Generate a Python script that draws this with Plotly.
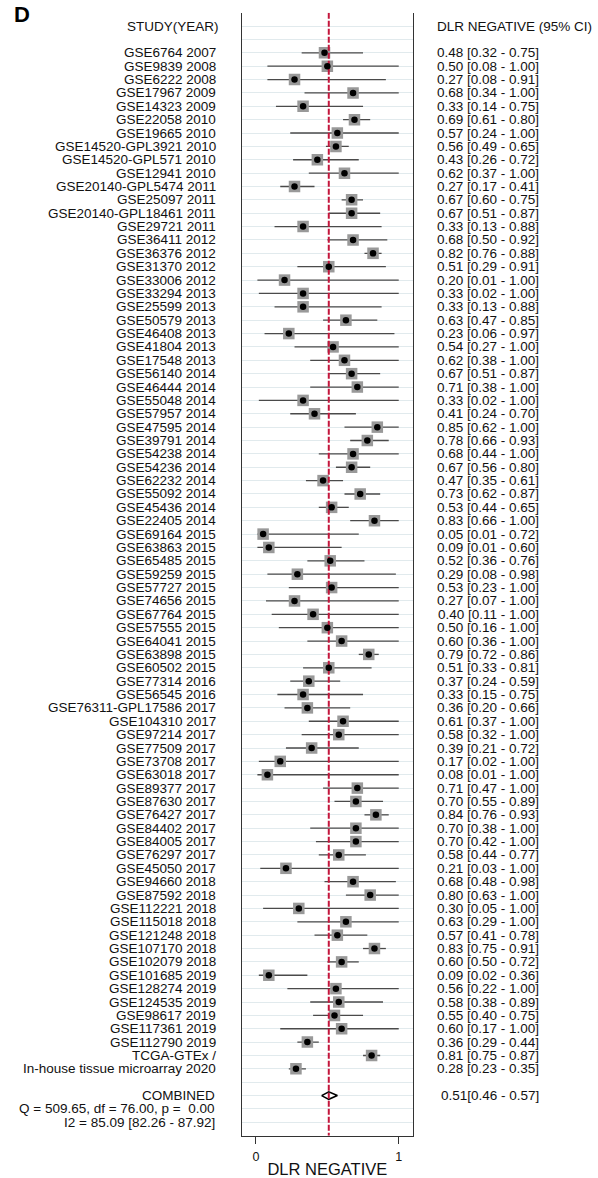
import plotly.graph_objects as go

# ---- study-level data: DLR negative with 95% CI ----
studies = [
    "GSE6764 2007", "GSE9839 2008", "GSE6222 2008", "GSE17967 2009", "GSE14323 2009",
    "GSE22058 2010", "GSE19665 2010", "GSE14520-GPL3921 2010", "GSE14520-GPL571 2010",
    "GSE12941 2010", "GSE20140-GPL5474 2011", "GSE25097 2011", "GSE20140-GPL18461 2011",
    "GSE29721 2011", "GSE36411 2012", "GSE36376 2012", "GSE31370 2012", "GSE33006 2012",
    "GSE33294 2013", "GSE25599 2013", "GSE50579 2013", "GSE46408 2013", "GSE41804 2013",
    "GSE17548 2013", "GSE56140 2014", "GSE46444 2014", "GSE55048 2014", "GSE57957 2014",
    "GSE47595 2014", "GSE39791 2014", "GSE54238 2014", "GSE54236 2014", "GSE62232 2014",
    "GSE55092 2014", "GSE45436 2014", "GSE22405 2014", "GSE69164 2015", "GSE63863 2015",
    "GSE65485 2015", "GSE59259 2015", "GSE57727 2015", "GSE74656 2015", "GSE67764 2015",
    "GSE57555 2015", "GSE64041 2015", "GSE63898 2015", "GSE60502 2015", "GSE77314 2016",
    "GSE56545 2016", "GSE76311-GPL17586 2017", "GSE104310 2017", "GSE97214 2017",
    "GSE77509 2017", "GSE73708 2017", "GSE63018 2017", "GSE89377 2017", "GSE87630 2017",
    "GSE76427 2017", "GSE84402 2017", "GSE84005 2017", "GSE76297 2017", "GSE45050 2017",
    "GSE94660 2018", "GSE87592 2018", "GSE112221 2018", "GSE115018 2018", "GSE121248 2018",
    "GSE107170 2018", "GSE102079 2018", "GSE101685 2019", "GSE128274 2019", "GSE124535 2019",
    "GSE98617 2019", "GSE117361 2019", "GSE112790 2019", "TCGA-GTEx /",
    "In-house tissue microarray 2020",
]

dlr = [
    0.48, 0.50, 0.27, 0.68, 0.33, 0.69, 0.57, 0.56, 0.43, 0.62,
    0.27, 0.67, 0.67, 0.33, 0.68, 0.82, 0.51, 0.20, 0.33, 0.33,
    0.63, 0.23, 0.54, 0.62, 0.67, 0.71, 0.33, 0.41, 0.85, 0.78,
    0.68, 0.67, 0.47, 0.73, 0.53, 0.83, 0.05, 0.09, 0.52, 0.29,
    0.53, 0.27, 0.40, 0.50, 0.60, 0.79, 0.51, 0.37, 0.33, 0.36,
    0.61, 0.58, 0.39, 0.17, 0.08, 0.71, 0.70, 0.84, 0.70, 0.70,
    0.58, 0.21, 0.68, 0.80, 0.30, 0.63, 0.57, 0.83, 0.60, 0.09,
    0.56, 0.58, 0.55, 0.60, 0.36, 0.81, 0.28,
]

ci_low = [
    0.32, 0.08, 0.08, 0.34, 0.14, 0.61, 0.24, 0.49, 0.26, 0.37,
    0.17, 0.60, 0.51, 0.13, 0.50, 0.76, 0.29, 0.01, 0.02, 0.13,
    0.47, 0.06, 0.27, 0.38, 0.51, 0.38, 0.02, 0.24, 0.62, 0.66,
    0.44, 0.56, 0.35, 0.62, 0.44, 0.66, 0.01, 0.01, 0.36, 0.08,
    0.23, 0.07, 0.11, 0.16, 0.36, 0.72, 0.33, 0.24, 0.15, 0.20,
    0.37, 0.32, 0.21, 0.02, 0.01, 0.47, 0.55, 0.76, 0.38, 0.42,
    0.44, 0.03, 0.48, 0.63, 0.05, 0.29, 0.41, 0.75, 0.50, 0.02,
    0.22, 0.38, 0.40, 0.17, 0.29, 0.75, 0.23,
]

ci_high = [
    0.75, 1.00, 0.91, 1.00, 0.75, 0.80, 1.00, 0.65, 0.72, 1.00,
    0.41, 0.75, 0.87, 0.88, 0.92, 0.88, 0.91, 1.00, 1.00, 0.88,
    0.85, 0.97, 1.00, 1.00, 0.87, 1.00, 1.00, 0.70, 1.00, 0.93,
    1.00, 0.80, 0.61, 0.87, 0.65, 1.00, 0.72, 0.60, 0.76, 0.98,
    1.00, 1.00, 1.00, 1.00, 1.00, 0.86, 0.81, 0.59, 0.75, 0.66,
    1.00, 1.00, 0.72, 1.00, 1.00, 1.00, 0.89, 0.93, 1.00, 1.00,
    0.77, 1.00, 0.98, 1.00, 1.00, 1.00, 0.78, 0.91, 0.72, 0.36,
    1.00, 0.89, 0.75, 1.00, 0.44, 0.87, 0.35,
]

# ---- pooled estimate and heterogeneity ----
pooled, pooled_low, pooled_high = 0.51, 0.46, 0.57
q_stat, q_df, q_p = 509.65, 76.00, 0.00
i2, i2_low, i2_high = 85.09, 82.26, 87.92

x_ticks = [0, 1]

# ---- row layout (row 0 = header, studies start at row 2) ----
study_rows = [i + 2 for i in range(len(studies))]
combined_row = study_rows[-1] + 2
q_row = combined_row + 1
i2_row = combined_row + 2
last_row = i2_row + 1

FONT = "Liberation Sans, Arial, sans-serif"
TXT = "#111111"
LABEL_SIZE = 13.5
W, H = 598, 1178

fig = go.Figure()

# confidence-interval whiskers
ci_x, ci_y = [], []
for lo, hi, r in zip(ci_low, ci_high, study_rows):
    ci_x += [lo, hi, None]
    ci_y += [r, r, None]
fig.add_trace(go.Scatter(x=ci_x, y=ci_y, mode="lines",
                         line=dict(color="#4a4a4a", width=1.3),
                         hoverinfo="skip", showlegend=False))

# grey weight boxes
fig.add_trace(go.Scatter(x=dlr, y=study_rows, mode="markers",
                         marker=dict(symbol="square", size=11.5, color="#999999",
                                     line=dict(width=0)),
                         hoverinfo="skip", showlegend=False))

# pooled diamond
half_h = 0.28
fig.add_trace(go.Scatter(
    x=[pooled_low, pooled, pooled_high, pooled, pooled_low],
    y=[combined_row, combined_row - half_h, combined_row, combined_row + half_h, combined_row],
    mode="lines", fill="toself", fillcolor="white",
    line=dict(color="black", width=1.6),
    hoverinfo="skip", showlegend=False))

# reference line at the pooled estimate
fig.add_trace(go.Scatter(x=[pooled, pooled], y=[-1, last_row], mode="lines",
                         line=dict(color="#c3163c", width=2, dash="6px,2px"),
                         hoverinfo="skip", showlegend=False))

# point estimates
fig.add_trace(go.Scatter(x=dlr, y=study_rows, mode="markers",
                         marker=dict(symbol="circle", size=6.5, color="black",
                                     line=dict(width=0)),
                         hoverinfo="skip", showlegend=False))

annotations = []
left_x = 218 / W
right_x = 541 / W


def left_label(text, row, x=left_x):
    annotations.append(dict(text=text, x=x, y=row, xref="paper", yref="y",
                            xanchor="right", yanchor="middle", showarrow=False,
                            font=dict(family=FONT, size=LABEL_SIZE, color=TXT)))


def right_label(text, row, x=right_x, anchor="right"):
    annotations.append(dict(text=text, x=x, y=row, xref="paper", yref="y",
                            xanchor=anchor, yanchor="middle", showarrow=False,
                            font=dict(family=FONT, size=LABEL_SIZE, color=TXT)))


left_label("STUDY(YEAR)", 0, x=221 / W)
right_label("DLR NEGATIVE (95% CI)", 0, x=435 / W, anchor="left")

for name, e, lo, hi, r in zip(studies, dlr, ci_low, ci_high, study_rows):
    left_label(name, r)
    right_label(f"{e:.2f} [{lo:.2f} - {hi:.2f}]", r)

left_label("COMBINED", combined_row, x=217 / W)
right_label(f"{pooled:.2f}[{pooled_low:.2f} - {pooled_high:.2f}]", combined_row)
left_label(f"Q = {q_stat:.2f}, df = {q_df:.2f}, p =\u00a0 {q_p:.2f}", q_row, x=217 / W)
left_label(f"I2 = {i2:.2f} [{i2_low:.2f} - {i2_high:.2f}]", i2_row, x=217 / W)

# panel letter
annotations.append(dict(text="<b>D</b>", x=12 / W, y=1 - 14 / H, xref="paper", yref="paper",
                        xanchor="left", yanchor="middle", showarrow=False,
                        font=dict(family=FONT, size=22, color="black")))

fig.update_layout(
    width=W, height=H,
    margin=dict(l=0, r=0, t=0, b=0),
    paper_bgcolor="white", plot_bgcolor="white",
    annotations=annotations,
    showlegend=False,
    xaxis=dict(
        domain=[241.7 / W, 413 / W], range=[-0.1, 1.1],
        tickvals=x_ticks, ticktext=[str(t) for t in x_ticks],
        ticks="outside", ticklen=7, tickwidth=1.2, tickcolor="#333333",
        ticklabelstandoff=2,
        tickfont=dict(family=FONT, size=12.5, color=TXT),
        showline=True, linecolor="#333333", linewidth=1.2, mirror=False,
        showgrid=False, zeroline=False, automargin=False,
        title=dict(text="DLR NEGATIVE", standoff=7,
                   font=dict(family=FONT, size=16.5, color=TXT)),
    ),
    yaxis=dict(
        domain=[1 - 1135.7 / H, 1 - 12.7 / H], range=[last_row, -1],
        tickvals=list(range(0, last_row)), showticklabels=False, ticks="",
        showgrid=True, gridcolor="#e1eaed", gridwidth=1,
        showline=True, linecolor="#333333", linewidth=1.2, mirror=True,
        zeroline=False, automargin=False,
    ),
)

fig.write_html("out.html")
